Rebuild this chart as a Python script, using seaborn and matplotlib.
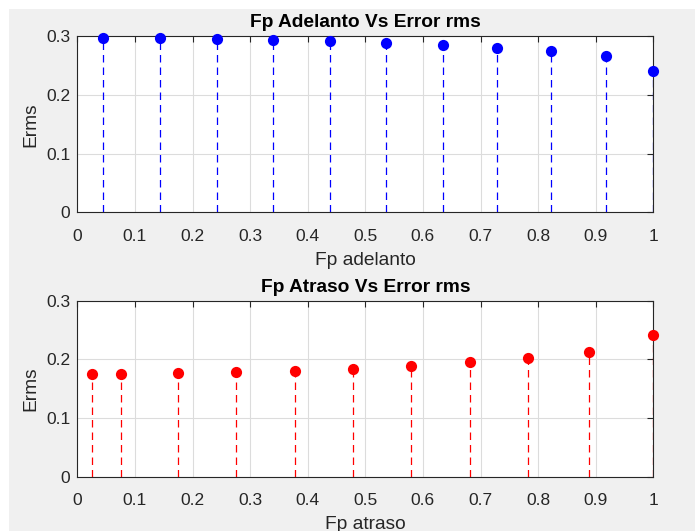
import matplotlib
matplotlib.use("Agg")
import matplotlib.pyplot as plt
import seaborn as sns
import pandas as pd
from matplotlib.patches import Rectangle

# Data
fp_adelanto = [0.0446, 0.1437, 0.2429, 0.3405, 0.4381, 0.5365, 0.6341, 0.7294, 0.8232, 0.9177, 1.0]
erms_adelanto = [0.2972, 0.2966, 0.2955, 0.2943, 0.2915, 0.2881, 0.2853, 0.2807, 0.2750, 0.2665, 0.2410]
fp_atraso = [0.0254, 0.0753, 0.175, 0.276, 0.3774, 0.479, 0.580, 0.681, 0.7825, 0.888, 1.0]
erms_atraso = [0.1757, 0.1757, 0.1763, 0.1780, 0.1803, 0.1838, 0.1884, 0.1948, 0.2029, 0.2133, 0.2410]
xticks = [0, 0.1, 0.2, 0.3, 0.4, 0.5, 0.6, 0.7, 0.8, 0.9, 1]
yticks = [0, 0.1, 0.2, 0.3]

sns.set_style("white")
plt.rcParams['font.family'] = ['Liberation Sans', 'DejaVu Sans']

W, H = 695, 531
fig = plt.figure(figsize=(W / 100, H / 100), dpi=100, facecolor='white')
fig.patches.append(Rectangle((9 / W, 0), 1 - 9 / W, 1 - 9 / H, transform=fig.transFigure,
                             facecolor='#f0f0f0', edgecolor='none', zorder=-10))

ax1 = fig.add_axes([77.3 / W, 1 - 212.3 / H, (653.3 - 77.3) / W, (212.3 - 36.2) / H])
ax2 = fig.add_axes([77.3 / W, 1 - 476.7 / H, (653.3 - 77.3) / W, (476.7 - 300.7) / H])

panels = [
    (ax1, fp_adelanto, erms_adelanto, (0, 0, 1), 'Fp Adelanto Vs Error rms', 'Fp adelanto'),
    (ax2, fp_atraso, erms_atraso, (1, 0, 0), 'Fp Atraso Vs Error rms', 'Fp atraso'),
]

for ax, xs, ys, col, title, xlabel in panels:
    df = pd.DataFrame({'x': xs, 'y': ys})
    ax.set_facecolor('white')
    ax.vlines(df['x'], 0, df['y'], colors=[col], linestyles=(0, (6, 4)), linewidth=0.9, zorder=2)
    sns.scatterplot(data=df, x='x', y='y', ax=ax, color=col, s=65, edgecolor=col,
                    linewidth=0, zorder=3, clip_on=False, legend=False)
    ax.set_xlim(0, 1)
    ax.set_ylim(0, 0.3)
    ax.set_xticks(xticks)
    ax.set_xticklabels([f'{t:g}' for t in xticks])
    ax.set_yticks(yticks)
    ax.set_yticklabels([f'{t:g}' for t in yticks])
    ax.grid(True, color='#dcdcdc', linewidth=0.8)
    ax.set_axisbelow(True)
    for s in ax.spines.values():
        s.set_visible(True)
        s.set_color('#262626')
        s.set_linewidth(0.8)
    ax.tick_params(direction='in', length=4, width=0.8, colors='#262626', labelsize=12.5,
                   top=True, right=True, labelcolor='#262626')
    ax.tick_params(axis='x', pad=12)
    ax.tick_params(axis='y', pad=5)
    ax.set_title(title, fontsize=13.8, fontweight='bold', color='black', pad=6.5)
    ax.set_xlabel(xlabel, fontsize=13.8, color='#262626', labelpad=5.5)
    ax.set_ylabel('Erms', fontsize=13.8, color='#262626', labelpad=5)

fig.savefig('out.png', dpi=100, facecolor=fig.get_facecolor())
